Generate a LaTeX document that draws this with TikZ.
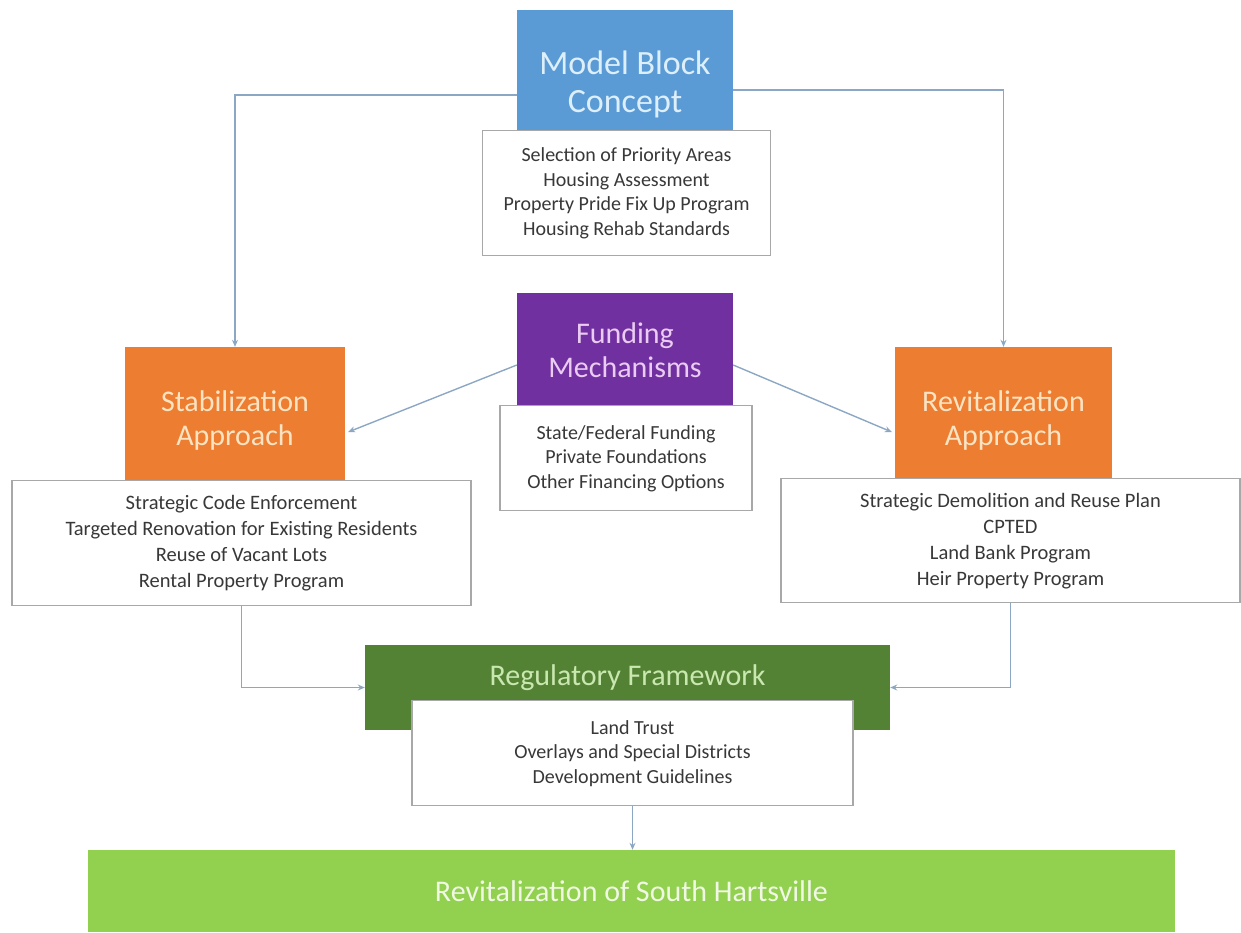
\documentclass[tikz,border=0pt]{standalone}
\usepackage{fontspec}
\setmainfont{Carlito}
\usetikzlibrary{positioning, arrows.meta, calc}

\definecolor{modelblue}{HTML}{5B9BD5}
\definecolor{modeltext}{HTML}{DDEFFA}
\definecolor{apporange}{HTML}{ED7D31}
\definecolor{apptext}{HTML}{FCE3C2}
\definecolor{fundpurple}{HTML}{7030A0}
\definecolor{fundtext}{HTML}{EBCBF2}
\definecolor{reggreen}{HTML}{548235}
\definecolor{regtext}{HTML}{C9E8B0}
\definecolor{goalgreen}{HTML}{92D050}
\definecolor{goaltext}{HTML}{F0F8E4}
\definecolor{linkblue}{HTML}{8CA7C4}
\definecolor{listgray}{HTML}{A8A8A8}
\definecolor{listtext}{HTML}{383838}

\begin{document}
\begin{tikzpicture}[
        x=1pt, y=-1pt,
        titlebox/.style={align=center, inner sep=0pt, font=\fontsize{30}{34}\selectfont},
        listbox/.style={draw=listgray, line width=1.2pt, fill=white, align=center, inner sep=0pt, text=listtext, font=\fontsize{20}{24.5}\selectfont},
        arrow/.style={-{Stealth[length=7pt, width=6pt]}, draw=linkblue, line width=1.4pt}
    ]
    \useasboundingbox (0,0) rectangle (1241,932);

    % Nodes
    \node [titlebox, fill=modelblue, text=modeltext, minimum width=216pt, minimum height=148pt, font=\fontsize{34}{38}\selectfont] (model) at (625,84) {Model Block\\Concept};
    \node [listbox, minimum width=288pt, minimum height=125pt] (modellist) [below=-28pt of model.south, xshift=1.5pt] {Selection of Priority Areas\\Housing Assessment\\Property Pride Fix Up Program\\Housing Rehab Standards};

    \node [titlebox, fill=apporange, text=apptext, minimum width=220pt, minimum height=146pt] (stab) at (235,420) {Stabilization\\Approach};
    \node [listbox, minimum width=459pt, minimum height=125pt, font=\fontsize{20.5}{26}\selectfont] (stablist) [below=-13pt of stab.south, xshift=6.5pt] {Strategic Code Enforcement\\Targeted Renovation for Existing Residents\\Reuse of Vacant Lots\\Rental Property Program};

    \node [titlebox, fill=apporange, text=apptext, minimum width=217pt, minimum height=146pt] (revit) at (1003.5,420) {Revitalization\\Approach};
    \node [listbox, minimum width=459pt, minimum height=124pt, font=\fontsize{20.5}{26}\selectfont] (revitlist) [below=-15pt of revit.south, xshift=7pt] {Strategic Demolition and Reuse Plan\\CPTED\\Land Bank Program\\Heir Property Program};

    \node [titlebox, fill=fundpurple, text=fundtext, minimum width=216pt, minimum height=114pt] (fund) at (625,350) {Funding\\Mechanisms};
    \node [listbox, minimum width=252pt, minimum height=105pt] (fundlist) [below=-2pt of fund.south, xshift=1pt] {State/Federal Funding\\Private Foundations\\Other Financing Options};

    \node [titlebox, fill=reggreen, minimum width=525pt, minimum height=85pt] (reg) at (627.5,687.5) {};
    \node [listbox, minimum width=441pt, minimum height=105pt] (reglist) [below=-30pt of reg.south, xshift=5pt] {Land Trust\\Overlays and Special Districts\\Development Guidelines};

    \node [titlebox, fill=goalgreen, text=goaltext, minimum width=1087pt, minimum height=82pt] (goal) at (631.5,891) {Revitalization of South Hartsville};

    % Labels
    \node [titlebox, text=regtext] (regtitle) at ([yshift=-33pt]reg.north) {Regulatory Framework};

    % Arrows
    \draw[arrow] ([yshift=-11pt]model.west) -| (stab.north);
    \draw[arrow] ([yshift=-6pt]model.east) -| (revit.north);

    \draw[arrow] ([yshift=-15pt]fund.west) -- ([xshift=3pt, yshift=-12pt]stab.east);
    \draw[arrow] ([yshift=-15pt]fund.east) -- ([xshift=-3pt, yshift=-12pt]revit.west);

    \draw[arrow] (stablist.south) |- (reg.west);
    \draw[arrow] (revitlist.south) |- (reg.east);
    \draw[arrow] (reglist.south) -- (reglist.south |- goal.north);

\end{tikzpicture}
\end{document}
